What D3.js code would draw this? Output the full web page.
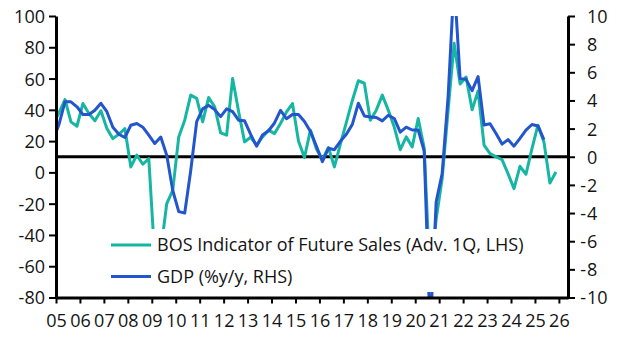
<!DOCTYPE html>
<html>
<head>
<meta charset="utf-8">
<script src="https://cdn.jsdelivr.net/npm/d3@7"></script>
<style>
  html, body { margin: 0; padding: 0; background: #fff; }
  svg { display: block; }
  text { font-family: "Open Sans", "Noto Sans", sans-serif; fill: #141414; }
</style>
</head>
<body>
<script>
// ---------- DATA ----------
// Quarterly observations, first = 2004 Q4, plotted at mid-quarter
const startYear = 2004, startQuarter = 4;

// BOS Indicator of Future Sales (advanced one quarter), LHS
const bosValues = [
  31, 38, 46.6, 32.3, 29.5, 44.1, 37.7, 33.0, 39.4, 28.0,
  21.6, 24.4, 28.0, 3.5, 11.0, 5.2, 8.8, -55, -50, -20,
  -11.5, 22.7, 33.4, 49.4, 47.3, 32.3, 47.9, 41.9, 25.3, 23.8,
  60.1, 39, 19.5, 22.5, 17.4, 22.7, 27, 24.8, 31.3, 38.7,
  44, 20, 9.5, 27, 15, 8.2, 15.9, 3.5, 18, 32,
  46, 58.6, 57, 33.4, 39.8, 49.4, 39.8, 29, 14.5, 22.7,
  16.3, 34.5, 15.5, -70, -30, -4, 40, 82.5, 56.5, 61,
  40, 52, 17.4, 12, 9.9, 8.2, -0.8, -10.4, 3.9, -1.2,
  15.2, 30.2, 19.5, -6.8, 0.3
];

// GDP (%y/y), RHS
const gdpValues = [
  1.2, 2.3, 3.9, 3.9, 3.55, 3.0, 3.0, 3.3, 3.8, 3.2,
  2.1, 1.6, 1.37, 2.24, 2.36, 2.1, 1.53, 0.94, 1.4, 0.1,
  -2.4, -3.9, -4.0, -1.0, 2.5, 3.4, 3.65, 3.35, 2.85, 3.4,
  3.2, 2.6, 2.55, 1.6, 0.75, 1.55, 1.85, 2.4, 3.3, 2.7,
  3.0, 3.0, 2.5, 1.8, 0.75, -0.35, 0.6, 0.5, 1.1, 1.6,
  2.3, 3.8, 2.9, 2.83, 2.79, 2.55, 2.95, 2.72, 1.75, 2.1,
  1.9, 1.9, 0.4, -12.5, -3.2, -1.2, 4.3, 12.5, 5.55, 5.5,
  4.7, 5.7, 2.25, 2.35, 1.65, 0.9, 1.22, 0.75, 1.3, 1.89,
  2.29, 2.19, 1.22
];

const xTickYears = [2005,2006,2007,2008,2009,2010,2011,2012,2013,2014,2015,
                    2016,2017,2018,2019,2020,2021,2022,2023,2024,2025,2026];
const xTickLabels = ["05","06","07","08","09","10","11","12","13","14","15",
                     "16","17","18","19","20","21","22","23","24","25","26"];
const leftTicks = [-80,-60,-40,-20,0,20,40,60,80,100];
const rightTicks = [-10,-8,-6,-4,-2,0,2,4,6,8,10];
const legendLabels = ["BOS Indicator of Future Sales (Adv. 1Q, LHS)", "GDP (%y/y, RHS)"];
const colors = { bos: "#17b6a3", gdp: "#2355cc" };

// quarter -> fractional year at mid-quarter
function quarterTime(i) {
  const q0 = (startQuarter - 1) + i;
  const yr = startYear + Math.floor(q0 / 4);
  const q = q0 % 4;
  return yr + q * 0.25 + 0.125;
}
const bosData = bosValues.map((v, i) => ({ t: quarterTime(i), v }));
const gdpData = gdpValues.map((v, i) => ({ t: quarterTime(i), v }));

// ---------- LAYOUT ----------
const W = 628, H = 344, FS = "18px";
const plot = { left: 56, right: 568, top: 16, bottom: 297.5 };

const x = d3.scaleLinear().domain([2005, 2026.38]).range([plot.left, plot.right]);
const yL = d3.scaleLinear().domain([-80, 100]).range([plot.bottom, plot.top]);
const yR = d3.scaleLinear().domain([-10, 10]).range([plot.bottom, plot.top]);

const svg = d3.select("body").append("svg").attr("width", W).attr("height", H);

svg.append("defs").append("clipPath").attr("id", "plotclip")
  .append("rect")
  .attr("x", plot.left).attr("y", plot.top)
  .attr("width", plot.right - plot.left).attr("height", plot.bottom - plot.top);

// zero line (LHS 10 = RHS 0)
svg.append("line")
  .attr("x1", plot.left).attr("x2", plot.right)
  .attr("y1", yR(0)).attr("y2", yR(0))
  .attr("stroke", "#000").attr("stroke-width", 3);

const series = svg.append("g").attr("clip-path", "url(#plotclip)");

const lineL = d3.line().x(d => x(d.t)).y(d => yL(d.v));
const lineR = d3.line().x(d => x(d.t)).y(d => yR(d.v));

series.append("path").datum(bosData)
  .attr("d", lineL).attr("fill", "none")
  .attr("stroke", colors.bos).attr("stroke-width", 3)
  .attr("stroke-linejoin", "round");

series.append("path").datum(gdpData)
  .attr("d", lineR).attr("fill", "none")
  .attr("stroke", colors.gdp).attr("stroke-width", 3)
  .attr("stroke-linejoin", "round");

// legend with white background
const lg = svg.append("g");
lg.append("rect").attr("x", 102).attr("y", 229).attr("width", 426).attr("height", 63)
  .attr("fill", "#fff");
const legendRows = [
  { label: legendLabels[0], color: colors.bos, y: 245 },
  { label: legendLabels[1], color: colors.gdp, y: 276.5 }
];
legendRows.forEach(r => {
  lg.append("line").attr("x1", 111).attr("x2", 151).attr("y1", r.y).attr("y2", r.y)
    .attr("stroke", r.color).attr("stroke-width", 3);
  lg.append("text").attr("x", 157).attr("y", r.y).attr("dy", "0.36em")
    .style("font-size", FS).text(r.label);
});

// ---------- AXES ----------
const axisStyle = g => {
  g.select(".domain").attr("stroke", "#000").attr("stroke-width", 3);
  g.selectAll(".tick line").attr("stroke", "#000").attr("stroke-width", 2);
  g.selectAll(".tick text").style("font-size", FS).attr("fill", "#141414");
};

const gLeft = svg.append("g").attr("transform", `translate(${plot.left},0)`)
  .call(d3.axisLeft(yL).tickValues(leftTicks).tickSize(7).tickSizeOuter(0)
        .tickPadding(4).tickFormat(d => String(d)))
  .call(axisStyle);
gLeft.selectAll(".tick text").attr("dy", "0.36em");

const gBottom = svg.append("g").attr("transform", `translate(0,${plot.bottom})`)
  .call(d3.axisBottom(x).tickValues(xTickYears).tickSize(6).tickSizeOuter(0)
        .tickPadding(11).tickFormat((d, i) => xTickLabels[i]))
  .call(axisStyle);

const gRight = svg.append("g").attr("transform", `translate(${plot.right},0)`)
  .call(d3.axisRight(yR).tickValues(rightTicks).tickSize(7).tickSizeOuter(0)
        .tickPadding(12).tickFormat(d => String(Math.abs(d))))
  .call(axisStyle);
gRight.selectAll(".tick text").attr("text-anchor", "start").attr("x", 19).attr("dy", "0.36em");
gRight.selectAll(".tick").filter(d => d < 0)
  .append("text").attr("x", 18).attr("dy", "0.36em")
  .attr("text-anchor", "end").attr("fill", "#141414")
  .style("font-size", FS).text("-");
</script>
</body>
</html>
